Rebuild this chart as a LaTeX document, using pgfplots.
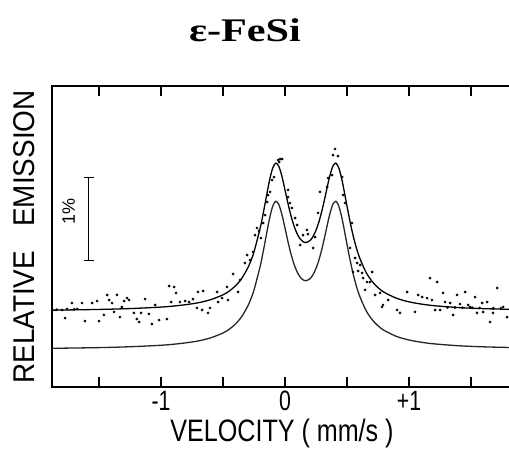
\documentclass[border=0pt]{standalone}
\usepackage{pgfplots}
\pgfplotsset{compat=1.18}
\usepackage{pgfplotstable}
\usepackage{fontspec}
\setmainfont{Liberation Serif}
\newfontfamily\plotter[FakeStretch=0.76]{Liberation Sans}
\newfontfamily\plotterx[FakeStretch=0.81]{Liberation Sans}
\newfontfamily\plotterwide[FakeStretch=0.93]{Liberation Sans}
\newfontfamily\plotternormal{Liberation Sans}

% Fitted doublet: v (mm/s), component curve, total fit (offset baseline)
\pgfplotstableread{
v      lo      up
-1.88  -0.004  0.456
-1.6    0.002  0.462
-1.4    0.008  0.468
-1.2    0.018  0.478
-1.0    0.033  0.493
-0.9    0.045  0.505
-0.8    0.062  0.522
-0.7    0.085  0.545
-0.6    0.122  0.582
-0.5    0.181  0.641
-0.45   0.226  0.686
-0.4    0.288  0.748
-0.35   0.376  0.836
-0.3    0.506  0.966
-0.275  0.593  1.053
-0.25   0.699  1.159
-0.2    0.987  1.447
-0.175  1.169  1.629
-0.15   1.367  1.827
-0.125  1.559  2.019
-0.1    1.705  2.165
-0.075  1.768  2.228
-0.05   1.729  2.189
-0.025  1.608  2.068
0.0     1.443  1.903
0.025   1.273  1.733
0.05    1.122  1.582
0.075   1.000  1.460
0.1     0.909  1.369
0.125   0.849  1.309
0.15    0.817  1.277
0.1675  0.810  1.270
0.2     0.833  1.293
0.225   0.881  1.341
0.25    0.960  1.420
0.275   1.069  1.529
0.3     1.209  1.669
0.325   1.374  1.834
0.35    1.545  2.005
0.36    1.608  2.068
0.385   1.729  2.189
0.41    1.768  2.228
0.435   1.705  2.165
0.46    1.559  2.019
0.47    1.485  1.945
0.5     1.248  1.708
0.525   1.057  1.517
0.55    0.889  1.349
0.575   0.748  1.208
0.6     0.633  1.093
0.65    0.461  0.921
0.7     0.346  0.806
0.75    0.267  0.727
0.8     0.211  0.671
0.9     0.139  0.599
1.0     0.096  0.556
1.1     0.069  0.529
1.2     0.050  0.510
1.4     0.027  0.487
1.6     0.014  0.474
1.81    0.006  0.466
}\fitdata

% Measured emission points
\pgfplotstableread{
v       y
-1.798  0.458
-1.758  0.470
-1.718  0.542
-1.677  0.470
-1.637  0.542
-1.774  0.361
-1.613  0.325
-1.556  0.542
-1.516  0.566
-1.500  0.325
-1.460  0.398
-1.435  0.639
-1.419  0.578
-1.395  0.542
-1.379  0.434
-1.355  0.639
-1.331  0.373
-1.315  0.494
-1.298  0.566
-1.274  0.602
-1.258  0.578
-1.218  0.422
-1.194  0.349
-1.177  0.313
-1.161  0.422
-1.129  0.590
-1.097  0.410
-1.073  0.289
-1.048  0.518
-1.016  0.337
-0.952  0.349
-0.935  0.747
-0.895  0.735
-0.879  0.663
-0.919  0.554
-0.847  0.554
-0.806  0.566
-0.774  0.554
-0.742  0.590
-0.702  0.675
-0.661  0.687
-0.710  0.482
-0.669  0.458
-0.621  0.422
-0.605  0.482
-0.548  0.675
-0.540  0.554
-0.508  0.602
-0.468  0.735
-0.460  0.578
-0.419  0.892
-0.379  0.675
-0.363  0.819
-0.323  1.024
-0.306  1.120
-0.282  1.060
-0.258  1.157
-0.242  1.361
-0.226  1.446
-0.210  1.410
-0.194  1.325
-0.177  1.506
-0.161  1.602
-0.145  1.759
-0.137  1.843
-0.121  1.880
-0.105  2.024
-0.089  2.060
-0.056  2.265
-0.048  2.241
-0.040  2.277
-0.024  2.277
 0.024  1.904
 0.024  1.819
 0.040  1.747
 0.056  1.687
 0.081  1.566
 0.097  1.482
 0.145  1.361
 0.177  1.422
 0.185  1.373
 0.121  1.241
 0.226  1.205
 0.242  1.337
 0.266  1.627
 0.282  1.880
 0.339  1.940
 0.347  2.048
 0.379  2.084
 0.403  2.398
 0.387  2.325
 0.427  2.313
 0.460  2.060
 0.468  1.843
 0.484  1.747
 0.540  1.506
 0.524  1.205
 0.565  1.084
 0.581  1.024
 0.605  1.000
 0.621  0.904
 0.629  0.843
 0.702  0.916
 0.661  0.795
 0.548  0.916
 0.589  0.928
 0.645  0.699
 0.685  0.795
 0.726  0.639
 0.766  0.663
 0.782  0.494
 0.790  0.518
 0.831  0.578
 0.903  0.458
 0.927  0.422
 0.984  0.675
 1.048  0.434
 1.073  0.639
 1.105  0.614
 1.145  0.602
 1.169  0.843
 1.185  0.578
 1.226  0.795
 1.210  0.458
 1.250  0.458
 1.274  0.663
 1.290  0.554
 1.331  0.542
 1.355  0.398
 1.387  0.639
 1.411  0.530
 1.452  0.675
 1.476  0.518
 1.492  0.494
 1.532  0.614
 1.548  0.422
 1.589  0.542
 1.597  0.434
 1.629  0.554
 1.653  0.313
 1.677  0.422
 1.710  0.723
 1.758  0.494
 1.790  0.373
 1.310  0.490
 1.370  0.488
 1.430  0.486
 1.510  0.484
 1.570  0.482
 1.680  0.480
 1.740  0.478
-1.840  0.462
-1.700  0.466
}\ptsdata

\begin{document}
\begin{tikzpicture}
\path[use as bounding box] (-52pt,-62pt) rectangle (457pt,387pt);
\begin{axis}[
  at={(0pt,0pt)}, anchor=south west,
  scale only axis, width=457pt, height=301pt,
  xmin=-1.879, xmax=1.806, ymin=-0.47, ymax=3.157,
  axis line style={draw=none},
  xtick={-1.5,-1,-0.5,0,0.5,1,1.5},
  xticklabels={{},{-1},{},{0},{},{+1},{}},
  xtick pos=both, xtick align=inside,
  major tick length=10pt,
  xtick style={draw=black, line width=1.5pt},
  ytick=\empty,
  xticklabel style={font=\plotter\fontsize{28}{28}\selectfont, inner sep=0pt, anchor=base, yshift=-24pt},
  clip=false,
]
% frame: left, top and bottom sides only
\draw[line width=1.2pt] (rel axis cs:1,1) -- (rel axis cs:0,1) -- (rel axis cs:0,0) -- (rel axis cs:1,0);
\addplot[black!85, line width=1.3pt, smooth] table[x=v, y=lo] {\fitdata};
\addplot[black, line width=1.3pt, smooth] table[x=v, y=up] {\fitdata};
\addplot[only marks, mark=*, mark size=1.2pt, black] table[x=v, y=y] {\ptsdata};
% 1% scale bar
\draw[line width=1pt] (axis cs:-1.581,1.06) -- (axis cs:-1.581,2.06);
\draw[line width=1pt] (axis cs:-1.62,1.06) -- (axis cs:-1.542,1.06);
\draw[line width=1pt] (axis cs:-1.62,2.06) -- (axis cs:-1.542,2.06);
\node[rotate=90, font=\plotternormal\fontsize{18}{18}\selectfont] at (axis cs:-1.745,1.65) {1\%};
\end{axis}
% inward ticks every 0.5 mm/s on the top and bottom sides, as filled strips
\foreach \xx in {47,109,171,233,295,357,419} {
  \fill[black] (\xx pt-0.9pt,0pt) rectangle (\xx pt+0.9pt,10pt);
  \fill[black] (\xx pt-0.9pt,291pt) rectangle (\xx pt+0.9pt,301pt);
}
\node[font=\bfseries\fontsize{33}{33}\selectfont] at (193pt,357pt) {\scalebox{1.28}[1.0]{ε-FeSi}};
\node[font=\plotterx\fontsize{31}{31}\selectfont, anchor=base] at (230pt,-55pt) {VELOCITY ( mm/s )};
\node[rotate=90, font=\plotterwide\fontsize{30}{30}\selectfont] at (-28pt,150pt) {RELATIVE\hspace{0.8em}EMISSION};
\end{tikzpicture}
\end{document}
